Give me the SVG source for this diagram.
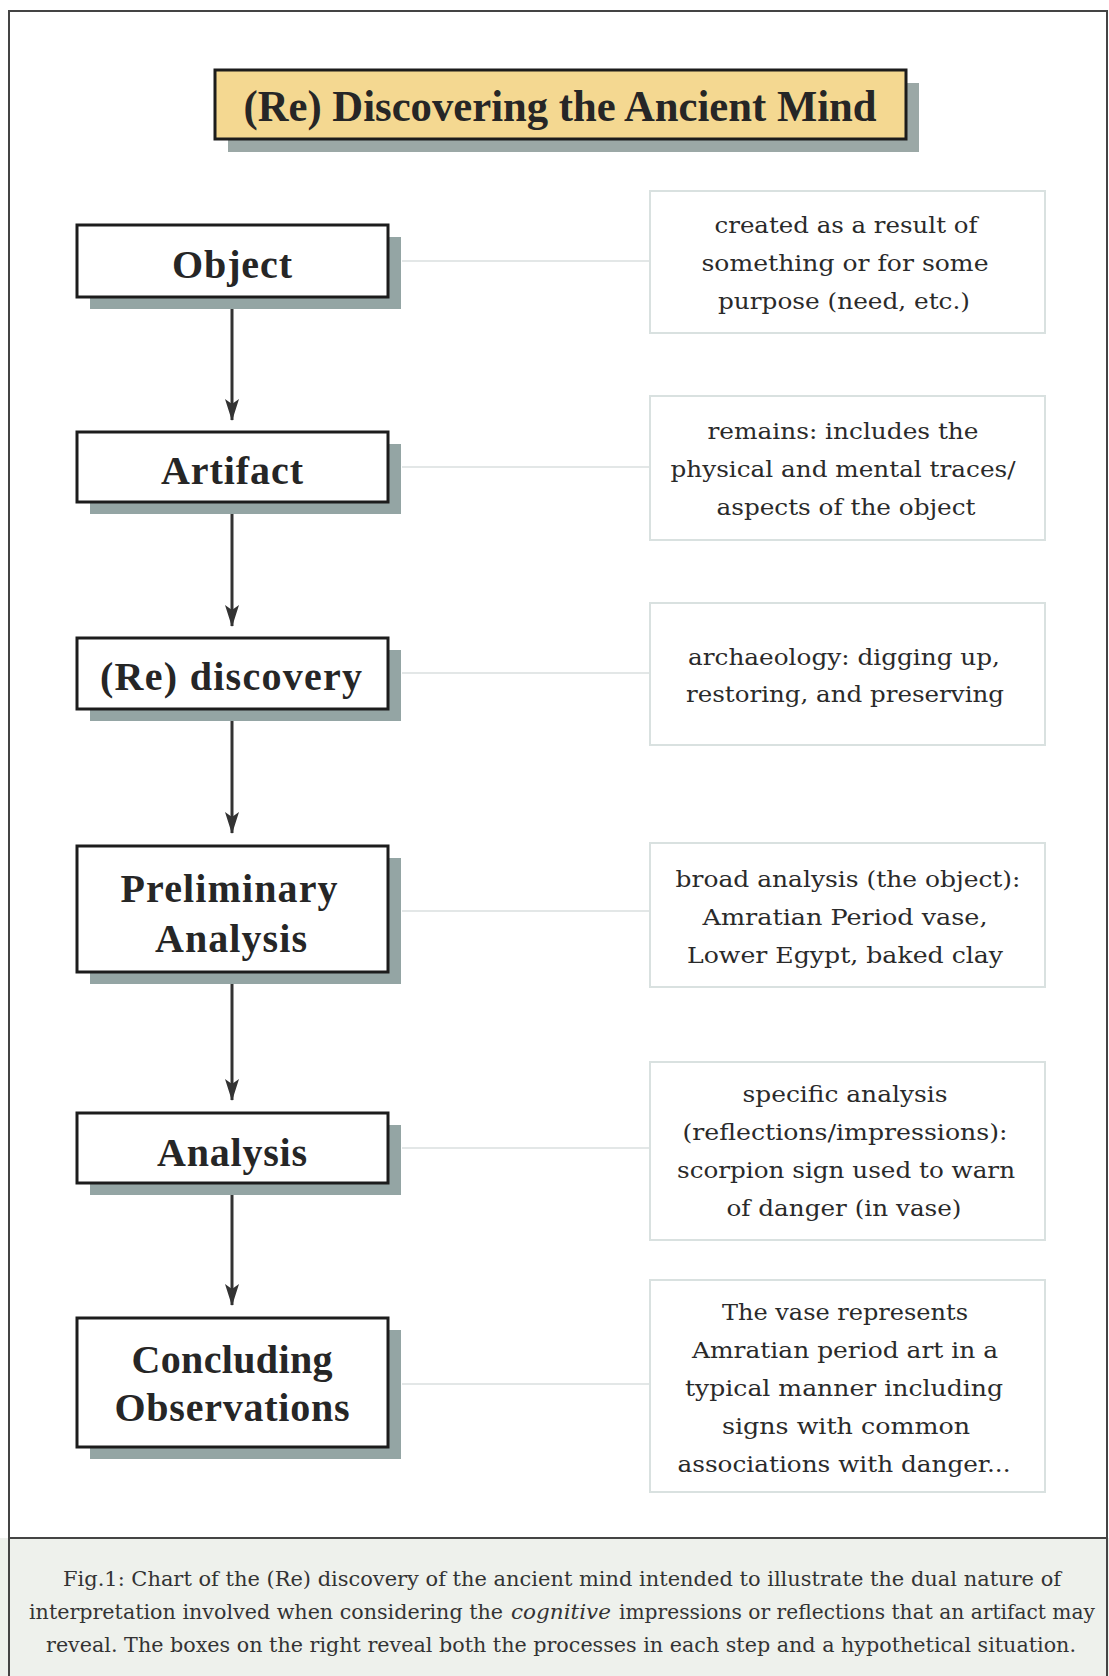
<svg xmlns="http://www.w3.org/2000/svg" width="1109" height="1676" viewBox="0 0 1109 1676">
<style>
.shadow{fill:#94a5a4}
.lbox{fill:#ffffff;stroke:#1c1c1c;stroke-width:3}
.ltxt{font-family:"Liberation Serif","Times New Roman",serif;font-weight:bold;font-size:40px;fill:#262626;text-anchor:middle}
.rbox{fill:#ffffff;stroke:#d9e1e0;stroke-width:2}
.rtxt{font-family:"DejaVu Serif","Liberation Serif",serif;font-size:23px;fill:#2a2a2a;text-anchor:middle}
.conn{stroke:#e3e7e7;stroke-width:2;fill:none}
.arrow{stroke:#333333;stroke-width:3;fill:none;marker-end:url(#ah)}
.cap{font-family:"DejaVu Serif","Liberation Serif",serif;font-size:20px;fill:#333333;text-anchor:middle}
.capl{font-family:"DejaVu Serif","Liberation Serif",serif;font-size:20px;fill:#333333;text-anchor:start}
</style>
<defs>
<marker id="ah" viewBox="0 0 22 14" refX="21" refY="7" markerWidth="22" markerHeight="14" markerUnits="userSpaceOnUse" orient="auto">
<path d="M0,0 L22,7 L0,14 L5,7 z" fill="#333333"/>
</marker>
</defs>
<rect x="0" y="0" width="1109" height="1676" fill="#ffffff"/>
<rect x="0" y="1538" width="1109" height="138" fill="#eef1ec"/>
<path d="M9,1676 L9,11 L1107,11 L1107,1676" fill="none" stroke="#444444" stroke-width="2"/>
<line x1="9" y1="1538" x2="1107" y2="1538" stroke="#444444" stroke-width="2"/>

<g id="title">
<rect x="228" y="83" width="691" height="69" fill="#9ba8a6"/>
<rect x="215" y="70" width="691" height="69" fill="#f4d891" stroke="#1c1c1c" stroke-width="3"/>
<text x="560" y="121" font-family="'Liberation Serif','Times New Roman',serif" font-weight="bold" font-size="45" fill="#262626" text-anchor="middle" textLength="633" lengthAdjust="spacingAndGlyphs">(Re) Discovering the Ancient Mind</text>
</g>

<g id="connectors">
<line class="conn" x1="402" y1="261" x2="650" y2="261"/>
<line class="conn" x1="402" y1="467" x2="650" y2="467"/>
<line class="conn" x1="402" y1="673" x2="650" y2="673"/>
<line class="conn" x1="402" y1="911" x2="650" y2="911"/>
<line class="conn" x1="402" y1="1148" x2="650" y2="1148"/>
<line class="conn" x1="402" y1="1384" x2="650" y2="1384"/>
<line class="arrow" x1="232" y1="298" x2="232" y2="420"/>
<line class="arrow" x1="232" y1="503" x2="232" y2="626"/>
<line class="arrow" x1="232" y1="710" x2="232" y2="833"/>
<line class="arrow" x1="232" y1="973" x2="232" y2="1100"/>
<line class="arrow" x1="232" y1="1184" x2="232" y2="1305"/>
</g>

<g id="object">
<rect class="shadow" x="90" y="237" width="311" height="72"/>
<rect class="lbox" x="77" y="225" width="311" height="72"/>
<text class="ltxt" x="232" y="278" textLength="120" lengthAdjust="spacing">Object</text>
</g>
<g id="artifact">
<rect class="shadow" x="90" y="444" width="311" height="70"/>
<rect class="lbox" x="77" y="432" width="311" height="70"/>
<text class="ltxt" x="232" y="484" textLength="142" lengthAdjust="spacing">Artifact</text>
</g>
<g id="rediscovery">
<rect class="shadow" x="90" y="650" width="311" height="71"/>
<rect class="lbox" x="77" y="638" width="311" height="71"/>
<text class="ltxt" x="231" y="690" textLength="262" lengthAdjust="spacing">(Re) discovery</text>
</g>
<g id="preliminary">
<rect class="shadow" x="90" y="858" width="311" height="126"/>
<rect class="lbox" x="77" y="846" width="311" height="126"/>
<text class="ltxt" x="229" y="902" textLength="217" lengthAdjust="spacing">Preliminary</text>
<text class="ltxt" x="231" y="952" textLength="152" lengthAdjust="spacing">Analysis</text>
</g>
<g id="analysis">
<rect class="shadow" x="90" y="1125" width="311" height="70"/>
<rect class="lbox" x="77" y="1113" width="311" height="70"/>
<text class="ltxt" x="232" y="1166" textLength="150" lengthAdjust="spacing">Analysis</text>
</g>
<g id="concluding">
<rect class="shadow" x="90" y="1330" width="311" height="129"/>
<rect class="lbox" x="77" y="1318" width="311" height="129"/>
<text class="ltxt" x="232" y="1373" textLength="201" lengthAdjust="spacing">Concluding</text>
<text class="ltxt" x="232" y="1421" textLength="235" lengthAdjust="spacing">Observations</text>
</g>

<g id="note-object">
<rect class="rbox" x="650" y="191" width="395" height="142"/>
<text class="rtxt" x="846" y="233" textLength="263" lengthAdjust="spacingAndGlyphs">created as a result of</text>
<text class="rtxt" x="845" y="271" textLength="287" lengthAdjust="spacingAndGlyphs">something or for some</text>
<text class="rtxt" x="844" y="309" textLength="252" lengthAdjust="spacingAndGlyphs">purpose (need, etc.)</text>
</g>
<g id="note-artifact">
<rect class="rbox" x="650" y="396" width="395" height="144"/>
<text class="rtxt" x="843" y="439" textLength="271" lengthAdjust="spacingAndGlyphs">remains: includes the</text>
<text class="rtxt" x="843" y="477" textLength="345" lengthAdjust="spacingAndGlyphs">physical and mental traces/</text>
<text class="rtxt" x="846" y="515" textLength="259" lengthAdjust="spacingAndGlyphs">aspects of the object</text>
</g>
<g id="note-rediscovery">
<rect class="rbox" x="650" y="603" width="395" height="142"/>
<text class="rtxt" x="844" y="665" textLength="312" lengthAdjust="spacingAndGlyphs">archaeology: digging up,</text>
<text class="rtxt" x="845" y="702" textLength="318" lengthAdjust="spacingAndGlyphs">restoring, and preserving</text>
</g>
<g id="note-preliminary">
<rect class="rbox" x="650" y="843" width="395" height="144"/>
<text class="rtxt" x="848" y="887" textLength="345" lengthAdjust="spacingAndGlyphs">broad analysis (the object):</text>
<text class="rtxt" x="845" y="925" textLength="285" lengthAdjust="spacingAndGlyphs">Amratian Period vase,</text>
<text class="rtxt" x="845" y="963" textLength="316" lengthAdjust="spacingAndGlyphs">Lower Egypt, baked clay</text>
</g>
<g id="note-analysis">
<rect class="rbox" x="650" y="1062" width="395" height="178"/>
<text class="rtxt" x="845" y="1102" textLength="205" lengthAdjust="spacingAndGlyphs">specific analysis</text>
<text class="rtxt" x="845" y="1140" textLength="325" lengthAdjust="spacingAndGlyphs">(reflections/impressions):</text>
<text class="rtxt" x="846" y="1178" textLength="338" lengthAdjust="spacingAndGlyphs">scorpion sign used to warn</text>
<text class="rtxt" x="844" y="1216" textLength="235" lengthAdjust="spacingAndGlyphs">of danger (in vase)</text>
</g>
<g id="note-concluding">
<rect class="rbox" x="650" y="1280" width="395" height="212"/>
<text class="rtxt" x="845" y="1320" textLength="246" lengthAdjust="spacingAndGlyphs">The vase represents</text>
<text class="rtxt" x="845" y="1358" textLength="306" lengthAdjust="spacingAndGlyphs">Amratian period art in a</text>
<text class="rtxt" x="844" y="1396" textLength="318" lengthAdjust="spacingAndGlyphs">typical manner including</text>
<text class="rtxt" x="846" y="1434" textLength="248" lengthAdjust="spacingAndGlyphs">signs with common</text>
<text class="rtxt" x="844" y="1472" textLength="333" lengthAdjust="spacingAndGlyphs">associations with danger...</text>
</g>

<g id="caption">
<text class="cap" x="562" y="1586" textLength="998" lengthAdjust="spacingAndGlyphs">Fig.1:  Chart of the (Re) discovery of the ancient mind intended to illustrate the dual nature of</text>
<text class="capl" x="29" y="1619" textLength="474" lengthAdjust="spacingAndGlyphs">interpretation involved when considering the</text>
<text class="capl" x="511" y="1619" font-style="italic" textLength="100" lengthAdjust="spacingAndGlyphs">cognitive</text>
<text class="capl" x="619" y="1619" textLength="476" lengthAdjust="spacingAndGlyphs">impressions or reflections that an artifact may</text>
<text class="cap" x="561" y="1652" textLength="1030" lengthAdjust="spacingAndGlyphs">reveal.  The boxes on the right reveal both the processes in each step and a hypothetical situation.</text>
</g>
</svg>
